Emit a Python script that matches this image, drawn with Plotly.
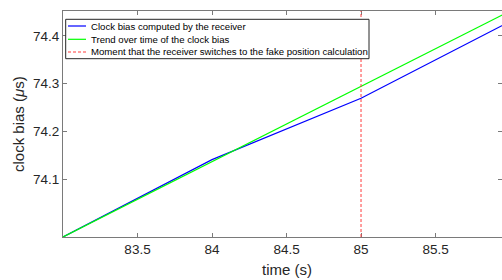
import plotly.graph_objects as go

# ---- data ----
time_s = [83, 84, 85, 86]
clock_bias = [73.979, 74.141, 74.2695, 74.430]
trend = [73.979, 74.1367, 74.2943, 74.452]
switch_time = 85
x_ticks = [83.5, 84, 84.5, 85, 85.5]
x_tick_labels = ["83.5", "84", "84.5", "85", "85.5"]
y_ticks = [74.1, 74.2, 74.3, 74.4]
y_tick_labels = ["74.1", "74.2", "74.3", "74.4"]
legend_labels = [
    "Clock bias computed by the receiver",
    "Trend over time of the clock bias",
    "Moment that the receiver switches to the fake position calculation",
]
x_title = "time (s)"
y_title = "clock bias (<i>μ</i>s)"
colors = ["#0000ff", "#00ff00", "#ff3c3c"]

W, H = 502, 280
# plot area in pixels (as measured on the reference)
PL, PT, PR, PB = 63, 11, 502, 237
ML, MT, MR, MB = PL, PT, W - PR, H - PB
FONT = "Liberation Sans, Arial, Helvetica, sans-serif"
AX = "#7a7a7a"
TXT = "#262626"

pw = PR - PL
ph = PB - PT


def px2x(px):
    return (px - PL) / pw


def py2y(py):
    return (PB - py) / ph


fig = go.Figure()
fig.add_trace(go.Scatter(x=time_s, y=clock_bias, mode="lines",
                         line=dict(color=colors[0], width=1.2),
                         name=legend_labels[0], showlegend=False))
fig.add_trace(go.Scatter(x=time_s, y=trend, mode="lines",
                         line=dict(color=colors[1], width=1.2),
                         name=legend_labels[1], showlegend=False))

shapes = [
    dict(type="line", xref="x", yref="paper", x0=switch_time, x1=switch_time,
         y0=0, y1=1, line=dict(color=colors[2], width=1, dash="3px,2px")),
]

# legend box (drawn manually to match MATLAB compact legend)
bx0, bx1, by0, by1 = 65.7, 369, 19.3, 58.7
shapes.append(dict(type="rect", xref="paper", yref="paper",
                   x0=px2x(bx0), x1=px2x(bx1), y0=py2y(by1), y1=py2y(by0),
                   line=dict(color="#262626", width=1), fillcolor="white", layer="above"))
rows = [26, 39.3, 52]
dashes = ["solid", "solid", "3px,2px"]
annotations = []
for i, lab in enumerate(legend_labels):
    shapes.append(dict(type="line", xref="paper", yref="paper",
                       x0=px2x(68), x1=px2x(86), y0=py2y(rows[i]), y1=py2y(rows[i]),
                       line=dict(color=colors[i], width=1.2, dash=dashes[i]), layer="above"))
    annotations.append(dict(xref="paper", yref="paper", x=px2x(88.5), y=py2y(rows[i]),
                            text=lab, showarrow=False, xanchor="left", yanchor="middle",
                            font=dict(family=FONT, size=9.6, color="#000000")))

# axis titles placed as in the reference (x title centred on the full 83..86 axis)
annotations.append(dict(xref="x", yref="paper", x=84.5, y=py2y(269), text=x_title,
                        showarrow=False, xanchor="center", yanchor="middle",
                        font=dict(family=FONT, size=15, color=TXT)))
annotations.append(dict(xref="paper", yref="paper", x=px2x(18), y=py2y(124), text=y_title,
                        showarrow=False, xanchor="center", yanchor="middle", textangle=-90,
                        font=dict(family=FONT, size=15, color=TXT)))

fig.update_layout(
    width=W, height=H,
    margin=dict(l=ML, r=MR, t=MT, b=MB, autoexpand=False),
    paper_bgcolor="white", plot_bgcolor="white",
    font=dict(family=FONT, color=TXT),
    showlegend=False,
    hovermode=False,
    shapes=shapes,
    annotations=annotations,
    xaxis=dict(range=[83, 85.946], tickvals=x_ticks, ticktext=x_tick_labels,
               ticks="inside", ticklen=4, tickwidth=1, tickcolor=AX,
               showline=True, linecolor=AX, linewidth=1, mirror="ticks",
               showgrid=False, zeroline=False, automargin=False,
               tickfont=dict(family=FONT, size=13.5, color=TXT)),
    yaxis=dict(range=[73.979, 74.452], tickvals=y_ticks, ticktext=y_tick_labels,
               ticks="inside", ticklen=4, tickwidth=1, tickcolor=AX,
               showline=True, linecolor=AX, linewidth=1, mirror="ticks",
               showgrid=False, zeroline=False, automargin=False,
               tickfont=dict(family=FONT, size=13.5, color=TXT)),
)

# remove the browser's default 8px page margin so the figure fills the window exactly
fig.write_html("out.html",
               config={"displayModeBar": False},
               post_script="document.body.style.margin='0';document.body.style.overflow='hidden';")
